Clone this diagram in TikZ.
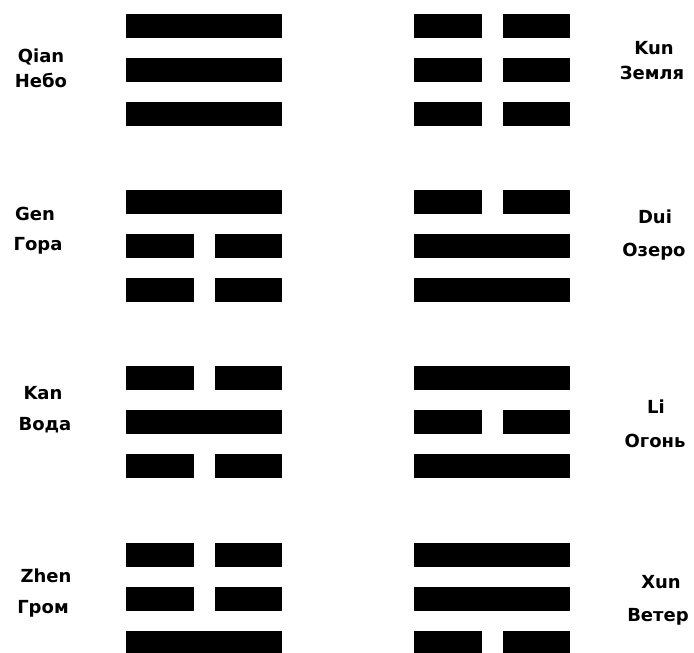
\documentclass[tikz,border=0pt]{standalone}
\usepackage{fontspec}
\setmainfont{DejaVu Sans}
\usetikzlibrary{positioning}

% one trigram: left x, top y, lines from top (1 = solid, 0 = broken)
\newcommand\trigram[3]{%
  \foreach \b [count=\i from 0] in {#3} {
    \ifnum\b=1
      \fill (#1,#2+\i*\pitch) rectangle ++(\W,\h);
    \else
      \fill (#1,#2+\i*\pitch) rectangle ++(\seg,\h);
      \fill (#1+\W-\seg,#2+\i*\pitch) rectangle ++(\seg,\h);
    \fi
  }}

\begin{document}
\begin{tikzpicture}[x=1pt,y=-1pt,
  lbl/.style={anchor=base,inner sep=0pt,font=\fontsize{18}{21}\selectfont\bfseries}]
\def\W{156} \def\seg{67.5} \def\h{23.5} \def\pitch{44}
\useasboundingbox (0,0) rectangle (694,653);
\fill[white] (0,0) rectangle (694,653);
% left column
\trigram{126}{14}{1,1,1}
\trigram{126}{190}{1,0,0}
\trigram{126}{366}{0,1,0}
\trigram{126}{543}{0,0,1}
% right column
\trigram{414}{14}{0,0,0}
\trigram{414}{190}{0,1,1}
\trigram{414}{366}{1,0,1}
\trigram{414}{543}{1,1,0}
% names
\node[lbl] (qian) at (41,62) {Qian};
\node[lbl] (qianru) at (41,87) {Небо};
\node[lbl] (gen) at (35,220) {Gen};
\node[lbl] (genru) at (38,250) {Гора};
\node[lbl] (kan) at (43,399) {Kan};
\node[lbl] (kanru) at (45,430) {Вода};
\node[lbl] (zhen) at (46,582) {Zhen};
\node[lbl] (zhenru) at (43,613) {Гром};
\node[lbl] (kun) at (654,54) {Kun};
\node[lbl] (kunru) at (652,79) {Земля};
\node[lbl] (dui) at (655,223) {Dui};
\node[lbl] (duiru) at (654,256) {Озеро};
\node[lbl] (li) at (656,413) {Li};
\node[lbl] (liru) at (655,447) {Огонь};
\node[lbl] (xun) at (661,588) {Xun};
\node[lbl] (xunru) at (658,621) {Ветер};
\end{tikzpicture}
\end{document}
